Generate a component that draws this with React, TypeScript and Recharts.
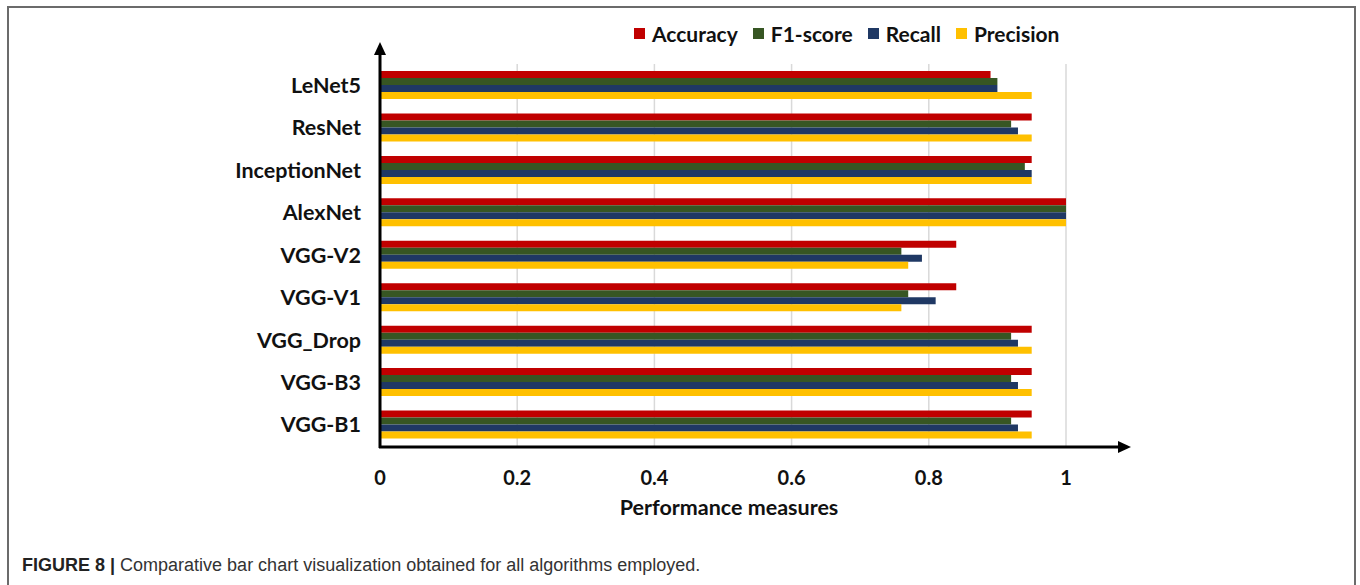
import { BarChart, Bar, XAxis, YAxis, CartesianGrid } from "recharts";

const models = [
  "LeNet5", "ResNet", "InceptionNet", "AlexNet", "VGG-V2",
  "VGG-V1", "VGG_Drop", "VGG-B3", "VGG-B1",
];
const accuracy = [0.89, 0.95, 0.95, 1.0, 0.84, 0.84, 0.95, 0.95, 0.95];
const f1Score = [0.9, 0.92, 0.94, 1.0, 0.76, 0.77, 0.92, 0.92, 0.92];
const recall = [0.9, 0.93, 0.95, 1.0, 0.79, 0.81, 0.93, 0.93, 0.93];
const precision = [0.95, 0.95, 0.95, 1.0, 0.77, 0.76, 0.95, 0.95, 0.95];
const xTicks = [0, 0.2, 0.4, 0.6, 0.8, 1];

const SERIES = [
  { key: "accuracy", name: "Accuracy", color: "#C00000" },
  { key: "f1", name: "F1-score", color: "#375623" },
  { key: "recall", name: "Recall", color: "#1F3864" },
  { key: "precision", name: "Precision", color: "#FFC000" },
];

const data = models.map((m, i) => ({
  model: m,
  accuracy: accuracy[i],
  f1: f1Score[i],
  recall: recall[i],
  precision: precision[i],
}));

const FONT = "Lato, 'Open Sans', sans-serif";

export default function App() {
  return (
    <div
      style={{
        position: "absolute",
        left: 0,
        top: 0,
        width: 1360,
        height: 585,
        background: "#fff",
        overflow: "hidden",
      }}
    >
      {/* figure frame */}
      <div
        style={{
          position: "absolute",
          left: 7,
          top: 6,
          width: 1345,
          height: 600,
          border: "2px solid #6b6b6b",
          borderBottom: "none",
        }}
      />

      {/* legend */}
      <div
        style={{
          position: "absolute",
          left: 634,
          top: 21,
          display: "flex",
          alignItems: "center",
          fontFamily: FONT,
          fontWeight: 700,
          fontSize: 21,
          color: "#111",
        }}
      >
        {SERIES.map((s) => (
          <div key={s.key} style={{ display: "flex", alignItems: "center", marginRight: 15 }}>
            <span style={{ width: 11, height: 11, background: s.color, marginRight: 7, display: "inline-block" }} />
            <span>{s.name}</span>
          </div>
        ))}
      </div>

      <div style={{ position: "absolute", left: 0, top: 0 }}>
        <BarChart
          width={1360}
          height={585}
          data={data}
          layout="vertical"
          margin={{ top: 64, right: 294, bottom: 59, left: 0 }}
          barGap={0}
          barSize={7}
        >
          <CartesianGrid horizontal={false} stroke="#d9d9d9" strokeWidth={1.5} />
          <XAxis
            type="number"
            domain={[0, 1]}
            ticks={xTicks}
            tickFormatter={(v: number) => String(v)}
            axisLine={false}
            tickLine={false}
            tickMargin={19}
            height={80}
            tick={{ fill: "#111", fontSize: 20, fontWeight: 700, fontFamily: FONT }}
            label={{
              value: "Performance measures",
              position: "insideBottom",
              offset: 11,
              dx: 6,
              fill: "#111",
              fontSize: 21.5,
              fontWeight: 700,
              fontFamily: FONT,
            }}
          />
          <YAxis
            type="category"
            dataKey="model"
            width={380}
            axisLine={false}
            tickLine={false}
            tickMargin={13}
            tick={{ fill: "#111", fontSize: 21.5, fontWeight: 700, fontFamily: FONT }}
          />
          {SERIES.map((s) => (
            <Bar key={s.key} dataKey={s.key} name={s.name} fill={s.color} isAnimationActive={false} />
          ))}
        </BarChart>
      </div>

      {/* arrowed axes */}
      <svg
        width={1360}
        height={585}
        style={{ position: "absolute", left: 0, top: 0, pointerEvents: "none" }}
      >
        <line x1={380} y1={448} x2={380} y2={52} stroke="#000" strokeWidth={3} />
        <polygon points="380,42 374,55 386,55" fill="#000" />
        <line x1={379} y1={447} x2={1120} y2={447} stroke="#000" strokeWidth={3} />
        <polygon points="1131,447 1118,441 1118,453" fill="#000" />
      </svg>

      {/* caption */}
      <div
        style={{
          position: "absolute",
          left: 22,
          top: 555,
          fontFamily: "'Liberation Sans', Arial, sans-serif",
          fontSize: 18,
          color: "#333",
          whiteSpace: "nowrap",
        }}
      >
        <b style={{ color: "#222" }}>FIGURE 8 |</b> Comparative bar chart visualization obtained for all algorithms employed.
      </div>
    </div>
  );
}
